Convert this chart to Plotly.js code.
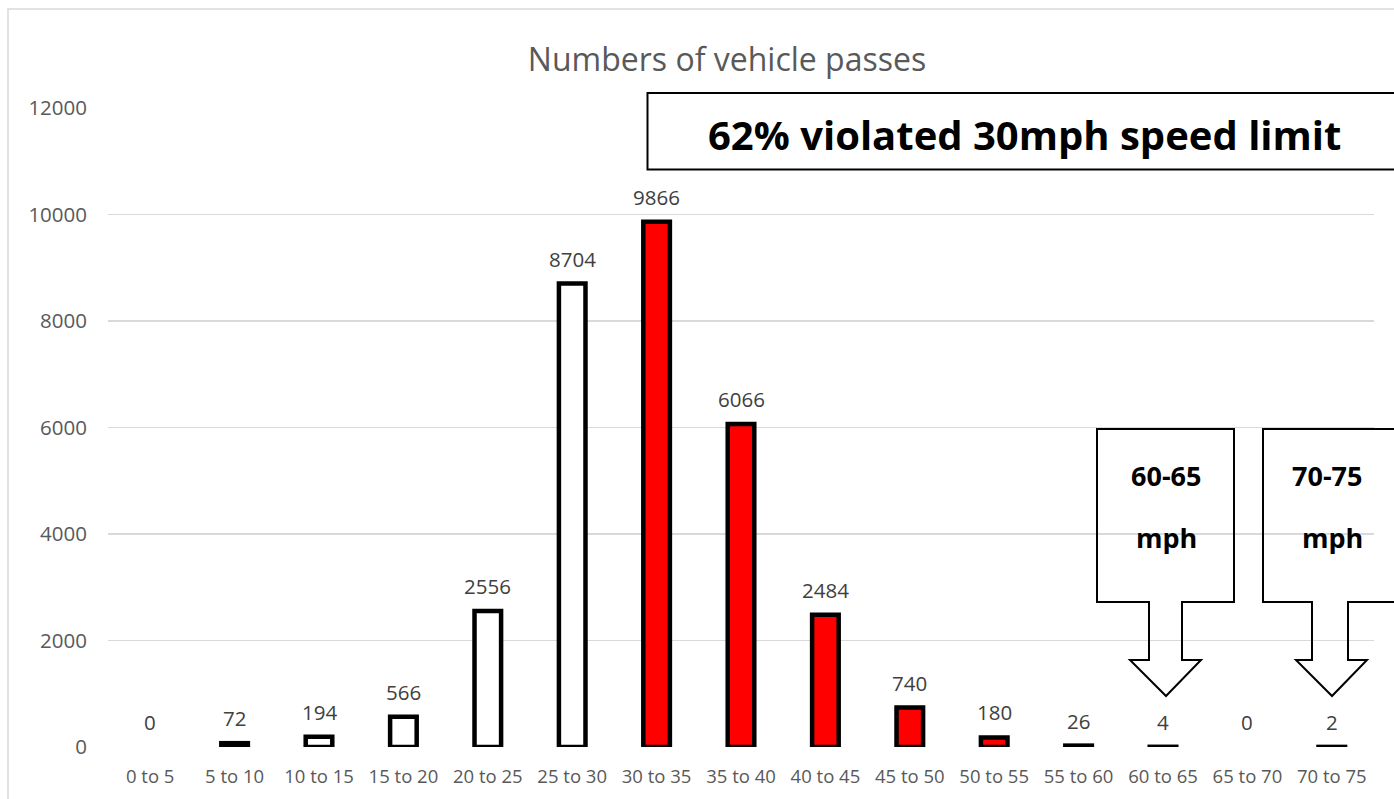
<!DOCTYPE html>
<html>
<head>
<meta charset="utf-8">
<script src="https://cdn.plot.ly/plotly-3.0.1.min.js"></script>
<style>
  html, body { margin: 0; padding: 0; background: #ffffff; }
  #chart { width: 1394px; height: 799px; }
</style>
</head>
<body>
<div id="chart"></div>
<script>
// ---- data ----
const categories = ['0 to 5', '5 to 10', '10 to 15', '15 to 20', '20 to 25', '25 to 30', '30 to 35',
  '35 to 40', '40 to 45', '45 to 50', '50 to 55', '55 to 60', '60 to 65', '65 to 70', '70 to 75'];
const passes = [0, 72, 194, 566, 2556, 8704, 9866, 6066, 2484, 740, 180, 26, 4, 0, 2];
const speedLimit = 30;
const yTickValues = [0, 2000, 4000, 6000, 8000, 10000, 12000];
const chartTitle = 'Numbers of vehicle passes';
const headline = '62% violated 30mph speed limit';
const calloutRanges = ['60-65', '70-75'];
const calloutUnit = 'mph';

// ---- layout geometry (pixels) ----
const W = 1394, H = 799;
const M = { l: 108, r: 20, t: 108, b: 52 };
const plotW = W - M.l - M.r, plotH = H - M.t - M.b;
const px = x => (x - M.l) / plotW;          // pixel -> paper x
const py = y => (H - M.b - y) / plotH;      // pixel -> paper y

const lowerBound = c => parseFloat(c.split(' ')[0]);
const fillColors = categories.map(c => lowerBound(c) >= speedLimit ? '#ff0000' : '#ffffff');
const lineWidths = passes.map(v => v === 0 ? 0 : 4.5);

const bars = {
  type: 'bar',
  x: categories,
  y: passes,
  width: 0.315,
  cliponaxis: false,
  marker: { color: fillColors, line: { color: '#000000', width: lineWidths } },
  hoverinfo: 'skip'
};

const labelAnnots = categories.map((c, i) => ({
  x: c, y: passes[i], xref: 'x', yref: 'y',
  text: String(passes[i]), showarrow: false,
  yanchor: 'middle', yshift: 25,
  font: { family: 'Open Sans, sans-serif', size: 20.5, color: '#404040' }
}));

function calloutPath(l, r, sl, sr, hl, hr, tip) {
  const top = 429, boxB = 602, headB = 660, tipY = 696;
  const pts = [[l, top], [r, top], [r, boxB], [sr, boxB], [sr, headB], [hr, headB], [tip, tipY],
    [hl, headB], [sl, headB], [sl, boxB], [l, boxB]];
  return 'M' + pts.map(p => px(p[0]).toFixed(5) + ',' + py(p[1]).toFixed(5)).join(' L') + ' Z';
}

const shapes = [
  // outer chart border
  { type: 'rect', xref: 'paper', yref: 'paper', x0: px(8), x1: px(1420), y0: py(9), y1: py(830),
    line: { color: '#d9d9d9', width: 1.5 }, fillcolor: 'rgba(0,0,0,0)', layer: 'below' },
  // headline box
  { type: 'rect', xref: 'paper', yref: 'paper', x0: px(647.5), x1: px(1420), y0: py(93), y1: py(169.5),
    line: { color: '#000000', width: 2 }, fillcolor: 'rgba(0,0,0,0)' },
  // callouts
  { type: 'path', xref: 'paper', yref: 'paper', path: calloutPath(1097, 1234, 1149, 1182, 1130, 1201, 1166),
    line: { color: '#000000', width: 2 }, fillcolor: 'rgba(0,0,0,0)' },
  { type: 'path', xref: 'paper', yref: 'paper', path: calloutPath(1263, 1420, 1312, 1348, 1296, 1367, 1332),
    line: { color: '#000000', width: 2 }, fillcolor: 'rgba(0,0,0,0)' }
];

const boldText = (x, y, t, size) => ({
  xref: 'paper', yref: 'paper', x: px(x), y: py(y), text: '<b>' + t + '</b>',
  showarrow: false, xanchor: 'center', yanchor: 'middle',
  font: { family: 'Open Sans, sans-serif', size: size, color: '#000000' }
});

const textAnnots = [
  boldText(1024, 134, headline, 40),
  boldText(1166, 475, calloutRanges[0], 27),
  boldText(1166, 537, calloutUnit, 27),
  boldText(1327, 475, calloutRanges[1], 27),
  boldText(1332, 537, calloutUnit, 27)
];

const layout = {
  width: W, height: H, autosize: false,
  margin: M,
  paper_bgcolor: '#ffffff', plot_bgcolor: '#ffffff',
  showlegend: false,
  title: {
    text: chartTitle, xref: 'container', yref: 'container',
    x: 727 / W, y: 1 - 60 / H, xanchor: 'center', yanchor: 'middle',
    font: { family: 'Open Sans, sans-serif', size: 32, color: '#595959' }
  },
  xaxis: {
    type: 'category', showgrid: false, zeroline: false, showline: false,
    ticks: '', ticklabelstandoff: 16,
    tickfont: { family: 'Open Sans, sans-serif', size: 18.5, color: '#595959' },
    fixedrange: true
  },
  yaxis: {
    range: [0, 12000], tickvals: yTickValues, ticktext: yTickValues.map(String),
    showgrid: true, gridcolor: '#d9d9d9', gridwidth: 1.5, zeroline: false, showline: false,
    ticks: '', ticklabelstandoff: 20,
    tickfont: { family: 'Open Sans, sans-serif', size: 20.5, color: '#595959' },
    fixedrange: true
  },
  shapes: shapes,
  annotations: labelAnnots.concat(textAnnots)
};

Plotly.newPlot('chart', [bars], layout, { displayModeBar: false, staticPlot: true });
</script>
</body>
</html>
